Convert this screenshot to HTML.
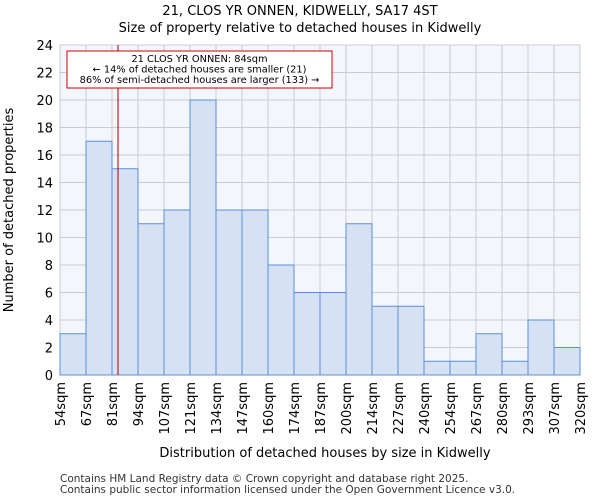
<!DOCTYPE html>
<html><head><meta charset="utf-8"><style>
body{margin:0;background:#fff;font-family:"DejaVu Sans","Liberation Sans",sans-serif}
</style></head><body>
<svg id="c" width="600" height="500" xmlns="http://www.w3.org/2000/svg" font-family="DejaVu Sans, Liberation Sans, sans-serif">
<text x="300" y="15" text-anchor="middle" font-size="13">21, CLOS YR ONNEN, KIDWELLY, SA17 4ST</text>
<text x="300" y="32" text-anchor="middle" font-size="13">Size of property relative to detached houses in Kidwelly</text>
<g id="plot"></g>
<text x="325" y="457" text-anchor="middle" font-size="13">Distribution of detached houses by size in Kidwelly</text>
<text transform="translate(13,210) rotate(-90)" text-anchor="middle" font-size="13">Number of detached properties</text>
<text x="60" y="482" font-size="10.5" fill="#333">Contains HM Land Registry data © Crown copyright and database right 2025.</text>
<text x="60" y="493" font-size="10.5" fill="#333">Contains public sector information licensed under the Open Government Licence v3.0.</text>
</svg>
<script>
const categories=["54sqm","67sqm","81sqm","94sqm","107sqm","121sqm","134sqm","147sqm","160sqm","174sqm","187sqm","200sqm","214sqm","227sqm","240sqm","254sqm","267sqm","280sqm","293sqm","307sqm","320sqm"];
const counts=[3,17,15,11,12,20,12,12,8,6,6,11,5,5,1,1,3,1,4,2];
const yTicks=[0,2,4,6,8,10,12,14,16,18,20,22,24];
const edges=[54,67,81,94,107,121,134,147,160,174,187,200,214,227,240,254,267,280,293,307,320];
const markerValue=84;
const L=60,R=580,T=45,B=375,yMax=24;
const ns="http://www.w3.org/2000/svg";
const g=document.getElementById('plot');
const nb=counts.length,bw=(R-L)/nb;
const xb=i=>L+i*bw;
const y=v=>B-(v/yMax)*(B-T);
function mk(t,a){const e=document.createElementNS(ns,t);for(const k in a)e.setAttribute(k,a[k]);g.appendChild(e);return e;}
let bg=mk('rect',{x:L,y:T,width:R-L,height:B-T,fill:'#f3f6fd'});


yTicks.forEach(v=>{
 let l=mk('line',{x1:L,x2:R,y1:y(v),y2:y(v),stroke:'#ccc','stroke-width':1});
 
 
 let t=mk('text',{x:L-7,y:y(v)+5,'text-anchor':'end','font-size':13});
 t.textContent=v;
 
 
});
categories.forEach((c,i)=>{
 let l=mk('line',{x1:xb(i),x2:xb(i),y1:T,y2:B,stroke:'#ccc','stroke-width':1});
 
 
 let t=mk('text',{'text-anchor':'end','font-size':13,transform:`translate(${xb(i)+5},${B+7}) rotate(-90)`});
 t.textContent=c;
 
 
});
counts.forEach((v,i)=>{
 let r=mk('rect',{x:xb(i),y:y(v),width:bw,height:B-y(v),fill:'#d6e2f4',stroke:'#5a8fd6','stroke-width':1});
 
 
});
let k=0;while(k<edges.length-2&&edges[k+1]<=markerValue)k++;
const mx=xb(k)+bw*(markerValue-edges[k])/(edges[k+1]-edges[k]);
let ml=mk('line',{x1:mx,x2:mx,y1:T,y2:B,stroke:'#a00','stroke-width':1});


let box=mk('rect',{x:67,y:51,width:265,height:37,fill:'#fff',stroke:'#c00','stroke-width':1});


["21 CLOS YR ONNEN: 84sqm","← 14% of detached houses are smaller (21)","86% of semi-detached houses are larger (133) →"].forEach((s,i)=>{
 let t=mk('text',{x:199.5,y:62+i*10.5,'text-anchor':'middle','font-size':9.8});
 t.textContent=s;
 
 
});
</script>
</body></html>
